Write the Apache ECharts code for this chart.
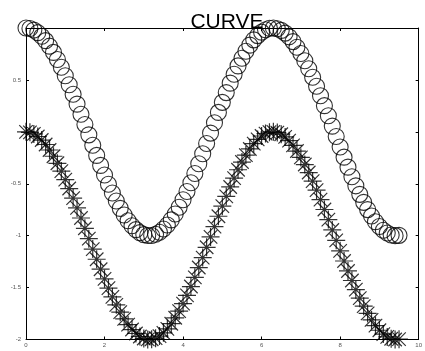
<!DOCTYPE html>
<html>
<head>
<meta charset="utf-8">
<script src="https://cdn.jsdelivr.net/npm/echarts@6/dist/echarts.min.js"></script>
<style>
  html, body { margin: 0; padding: 0; background: #fff; }
  #chart { width: 425px; height: 351px; }
</style>
</head>
<body>
<div id="chart"></div>
<script>
// sample positions along x
const xValues = [
  0.0, 0.1, 0.2, 0.3, 0.4, 0.5, 0.6, 0.7, 0.8, 0.9,
  1.0, 1.1, 1.2, 1.3, 1.4, 1.5, 1.6, 1.7, 1.8, 1.9,
  2.0, 2.1, 2.2, 2.3, 2.4, 2.5, 2.6, 2.7, 2.8, 2.9,
  3.0, 3.1, 3.2, 3.3, 3.4, 3.5, 3.6, 3.7, 3.8, 3.9,
  4.0, 4.1, 4.2, 4.3, 4.4, 4.5, 4.6, 4.7, 4.8, 4.9,
  5.0, 5.1, 5.2, 5.3, 5.4, 5.5, 5.6, 5.7, 5.8, 5.9,
  6.0, 6.1, 6.2, 6.3, 6.4, 6.5, 6.6, 6.7, 6.8, 6.9,
  7.0, 7.1, 7.2, 7.3, 7.4, 7.5, 7.6, 7.7, 7.8, 7.9,
  8.0, 8.1, 8.2, 8.3, 8.4, 8.5, 8.6, 8.7, 8.8, 8.9,
  9.0, 9.1, 9.2, 9.3, 9.4, 9.5
];

// upper curve (circle markers)
const circleValues = [
  1.000, 0.995, 0.980, 0.955, 0.921, 0.878, 0.825, 0.765, 0.697, 0.622,
  0.540, 0.454, 0.362, 0.267, 0.170, 0.071, -0.029, -0.129, -0.227, -0.323,
  -0.416, -0.505, -0.589, -0.666, -0.737, -0.801, -0.857, -0.904, -0.942, -0.971,
  -0.990, -0.999, -0.998, -0.987, -0.967, -0.936, -0.897, -0.848, -0.791, -0.726,
  -0.654, -0.575, -0.490, -0.401, -0.307, -0.211, -0.112, -0.012, 0.087, 0.187,
  0.284, 0.378, 0.469, 0.554, 0.635, 0.709, 0.776, 0.835, 0.886, 0.927,
  0.960, 0.983, 0.997, 1.000, 0.993, 0.977, 0.951, 0.915, 0.869, 0.815,
  0.754, 0.685, 0.608, 0.526, 0.439, 0.347, 0.252, 0.155, 0.055, -0.045,
  -0.146, -0.244, -0.340, -0.432, -0.520, -0.602, -0.679, -0.749, -0.811, -0.866,
  -0.911, -0.948, -0.975, -0.993, -1.000, -0.997
];

// lower curve (asterisk markers)
const starValues = [
  0.000, -0.005, -0.020, -0.045, -0.079, -0.122, -0.175, -0.235, -0.303, -0.378,
  -0.460, -0.546, -0.638, -0.733, -0.830, -0.929, -1.029, -1.129, -1.227, -1.323,
  -1.416, -1.505, -1.589, -1.666, -1.737, -1.801, -1.857, -1.904, -1.942, -1.971,
  -1.990, -1.999, -1.998, -1.987, -1.967, -1.936, -1.897, -1.848, -1.791, -1.726,
  -1.654, -1.575, -1.490, -1.401, -1.307, -1.211, -1.112, -1.012, -0.913, -0.813,
  -0.716, -0.622, -0.531, -0.446, -0.365, -0.291, -0.224, -0.165, -0.114, -0.073,
  -0.040, -0.017, -0.003, 0.000, -0.007, -0.023, -0.049, -0.085, -0.131, -0.185,
  -0.246, -0.315, -0.392, -0.474, -0.561, -0.653, -0.748, -0.845, -0.945, -1.045,
  -1.146, -1.244, -1.340, -1.432, -1.520, -1.602, -1.679, -1.749, -1.811, -1.866,
  -1.911, -1.948, -1.975, -1.993, -2.000, -1.997
];

// tick labels shown on each axis
const xTickLabels = ['0', '2', '4', '6', '8', '10'];
const yTickLabels = ['-2', '-1.5', '-1', '-0.5', '0.5'];

const titleText = 'CURVE';

function pairs(xs, ys) {
  return xs.map((x, i) => [x, ys[i]]);
}

const tickFont = { fontSize: 6, color: '#555', fontFamily: 'Liberation Sans, Arial, sans-serif' };
const asteriskPath = 'path://M0 8L16 8M8 0L8 16M2 2L14 14M14 2L2 14';

const frameLine = { show: true, onZero: false, lineStyle: { color: '#000', width: 1 } };
const innerTick = { show: true, inside: true, length: 3, lineStyle: { color: '#000' } };

const chart = echarts.init(document.getElementById('chart'), null, { renderer: 'canvas' });

chart.setOption({
  animation: false,
  backgroundColor: '#fff',
  title: {
    text: titleText,
    left: 222,
    textAlign: 'center',
    top: 7,
    textStyle: { fontSize: 21, fontWeight: 'normal', color: '#000', fontFamily: 'Liberation Sans, Arial, sans-serif' }
  },
  grid: { left: 26, right: 6, top: 28, bottom: 11.5, containLabel: false },
  xAxis: [
    {
      type: 'value', min: 0, max: 10, interval: 2,
      axisLine: frameLine,
      axisTick: innerTick,
      axisLabel: Object.assign({ margin: 3, formatter: v => xTickLabels.includes(String(v)) ? String(v) : '' }, tickFont),
      splitLine: { show: false }
    },
    {
      type: 'value', position: 'top', min: 0, max: 10, interval: 2,
      axisLine: frameLine,
      axisTick: innerTick,
      axisLabel: { show: false },
      splitLine: { show: false }
    }
  ],
  yAxis: [
    {
      type: 'value', min: -2, max: 1, interval: 0.5,
      axisLine: frameLine,
      axisTick: innerTick,
      axisLabel: Object.assign({ margin: 5, formatter: v => yTickLabels.includes(String(v)) ? String(v) : '' }, tickFont),
      splitLine: { show: false }
    },
    {
      type: 'value', position: 'right', min: -2, max: 1, interval: 0.5,
      axisLine: frameLine,
      axisTick: innerTick,
      axisLabel: { show: false },
      splitLine: { show: false }
    }
  ],
  series: [
    {
      type: 'scatter',
      xAxisIndex: 0, yAxisIndex: 0,
      data: pairs(xValues, circleValues),
      symbol: 'circle',
      symbolSize: 16,
      clip: false,
      itemStyle: { color: 'rgba(0,0,0,0)', borderColor: '#000', borderWidth: 1.1 }
    },
    {
      type: 'scatter',
      xAxisIndex: 0, yAxisIndex: 0,
      data: pairs(xValues, starValues),
      symbol: asteriskPath,
      symbolSize: 18,
      clip: false,
      itemStyle: { color: 'rgba(0,0,0,0)', borderColor: '#000', borderWidth: 1.2 }
    }
  ]
});
</script>
</body>
</html>
